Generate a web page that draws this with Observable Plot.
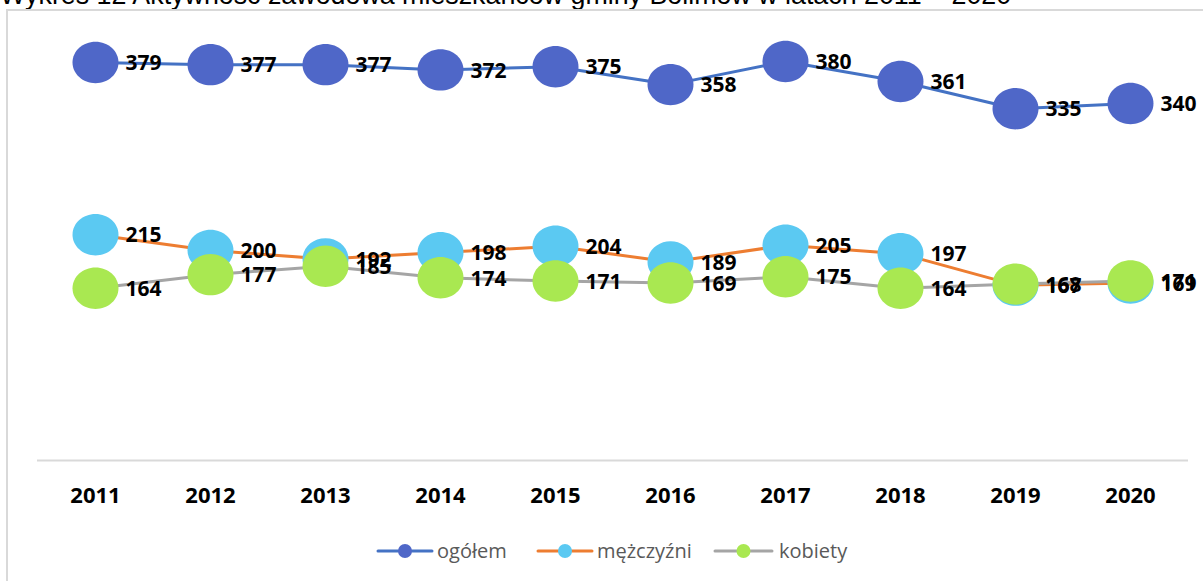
<!DOCTYPE html>
<html><head><meta charset="utf-8">
<script src="https://cdn.jsdelivr.net/npm/d3@7"></script>
<script src="https://cdn.jsdelivr.net/npm/@observablehq/plot@0.6"></script>
<style>
html,body{margin:0;padding:0;background:#fff;overflow:hidden;width:1203px;height:581px;}
#title{position:absolute;left:0;white-space:nowrap;font-family:"Liberation Sans",Arial,sans-serif;color:#000;line-height:1;}
#box{position:absolute;left:6px;top:9px;width:1300px;height:700px;border:2px solid #D9D9D9;box-sizing:border-box;}
#chart{position:absolute;left:0;top:0;}
#legend{position:absolute;left:0;top:530px;}
</style></head><body>
<div id="title">Wykres 12 Aktywność zawodowa mieszkańców gminy Bolimów w latach 2011 – 2020</div>
<div id="box"></div>
<div id="chart"></div>
<svg id="legend" width="1203" height="45"></svg>
<script>
const years = ["2011","2012","2013","2014","2015","2016","2017","2018","2019","2020"];
const ogolem = [379,377,377,372,375,358,380,361,335,340];
const mezczyzni = [215,200,192,198,204,189,205,197,167,169];
const kobiety = [164,177,185,174,171,169,175,164,168,171];
const seriesNames = ["ogółem","mężczyźni","kobiety"];
const lineColors = ["#4472C4","#ED7D31","#A5A5A5"];
const markerColors = ["#4F67C8","#5BC9F2","#A9E851"];

// title: fit width
const titleEl = document.getElementById("title");
const cv = document.createElement("canvas").getContext("2d");
cv.font = "100px 'Liberation Sans'";
const w100 = cv.measureText(titleEl.textContent).width;
const fs = 100 * 1013 / w100;
titleEl.style.fontSize = fs + "px";
titleEl.style.top = (5 - 0.8465 * fs) + "px";

// slightly wide elliptical marker, like the original
const ellipse = {
  draw(ctx, size) {
    const r = Math.sqrt(size / Math.PI);
    const rx = r * 1.045, ry = r * 0.94, k = 0.5522847;
    ctx.moveTo(rx, 0);
    ctx.bezierCurveTo(rx, k * ry, k * rx, ry, 0, ry);
    ctx.bezierCurveTo(-k * rx, ry, -rx, k * ry, -rx, 0);
    ctx.bezierCurveTo(-rx, -k * ry, -k * rx, -ry, 0, -ry);
    ctx.bezierCurveTo(k * rx, -ry, rx, -k * ry, rx, 0);
    ctx.closePath();
  }
};

const allSeries = [ogolem, mezczyzni, kobiety];
const rows = allSeries.map((vals, si) => years.map((yr, i) => ({year: yr, value: vals[i], series: seriesNames[si]})));

const marks = [Plot.ruleY([0], {stroke:"#D9D9D9", strokeWidth:2})];
rows.forEach((r, si) => marks.push(Plot.line(r, {x:"year", y:"value", stroke: lineColors[si], strokeWidth:3, strokeLinejoin:"round"})));
rows.forEach((r, si) => marks.push(Plot.dot(r, {x:"year", y:"value", r:22, symbol: ellipse, fill: markerColors[si], stroke:"none"})));
rows.forEach((r, si) => marks.push(Plot.text(r, {x:"year", y:"value", text: d => String(d.value), dx:30, dy:1, textAnchor:"start", fontSize:21, fontWeight:"bold", fill:"#000"})));
marks.push(Plot.axisX({tickSize:0, tickPadding:27, fontSize:22, fontWeight:"bold", fill:"#000", label:null}));

const plot = Plot.plot({
  width:1203, height:520,
  marginLeft:37, marginRight:15, marginTop:40, marginBottom:60,
  style:{fontFamily:"'Open Sans', sans-serif", background:"transparent", overflow:"visible"},
  x:{type:"point", domain:years, padding:0.5, axis:null, label:null},
  y:{domain:[0,400], axis:null},
  marks
});
document.getElementById("chart").appendChild(plot);

// legend
const leg = d3.select("#legend");
const items = [
  {x0:378, x1:432, tx:437},
  {x0:538, x1:592, tx:597},
  {x0:715, x1:772, tx:779}
];
const cy = 21;
items.forEach((it, i) => {
  leg.append("line").attr("x1", it.x0).attr("x2", it.x1).attr("y1", cy).attr("y2", cy)
    .attr("stroke", lineColors[i]).attr("stroke-width", 3).attr("stroke-linecap","round");
  leg.append("circle").attr("cx", (it.x0+it.x1)/2).attr("cy", cy).attr("r", 7).attr("fill", markerColors[i]);
  leg.append("text").attr("x", it.tx).attr("y", cy).attr("dy","0.35em")
    .attr("font-family","'Open Sans', sans-serif").attr("font-size",20).attr("fill","#595959").text(seriesNames[i]);
});
</script>
</body></html>
